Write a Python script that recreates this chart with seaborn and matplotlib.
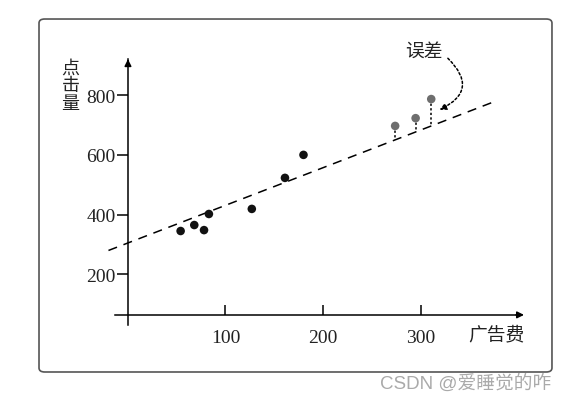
import matplotlib
matplotlib.use("Agg")
import numpy as np
import pandas as pd
import seaborn as sns
import matplotlib.pyplot as plt
from matplotlib.patches import FancyBboxPatch

# data
ad_cost = [54, 68, 78, 83, 127, 161, 180, 274, 295, 311]
clicks = [345, 365, 348, 402, 419, 523, 600, 697, 723, 787]
group = ["fit"] * 7 + ["err"] * 3
line_x = [-20, 379]
intercept, slope = 305, 1.26
x_ticks = [100, 200, 300]
y_ticks = [200, 400, 600, 800]

df = pd.DataFrame({"ad_cost": ad_cost, "clicks": clicks, "group": group})

sns.set_style("white")
plt.rcParams["font.family"] = ["Liberation Serif", "Noto Sans CJK SC"]
cjk = ["Noto Sans CJK SC"]

fig = plt.figure(figsize=(5.67, 4.06), dpi=100)
ax = fig.add_axes([0.1827, 0.1749, 0.7653, 0.6985])
ax.set_xlim(-25, 420)
ax.set_ylim(0, 950)

# fitted line
lx = np.array(line_x)
ax.plot(lx, intercept + slope * lx, color="black", lw=1.1, ls=(0, (6, 4.5)))

# residuals of the grey points
err = df[df.group == "err"]
for x, y in zip(err.ad_cost, err.clicks):
    ax.plot([x, x], [y, intercept + slope * x], color="black", lw=1.1, ls=(0, (1.5, 1.5)))

sns.scatterplot(data=df, x="ad_cost", y="clicks", hue="group",
                palette={"fit": "#111111", "err": "#6e6e6e"},
                s=38, edgecolor="none", legend=False, ax=ax, zorder=3)

# axes drawn through the origin
for s in ["top", "right"]:
    ax.spines[s].set_visible(False)
ax.spines["left"].set_position(("data", 0))
ax.spines["bottom"].set_position(("data", 64))
ax.spines["left"].set_bounds(30, 920)
ax.spines["bottom"].set_bounds(-13, 400)
for s in ["left", "bottom"]:
    ax.spines[s].set_color("black")
    ax.spines[s].set_linewidth(1.1)
ax.annotate("", xy=(409, 64), xytext=(395, 64),
            arrowprops=dict(arrowstyle="-|>", color="black", lw=1.1, mutation_scale=10))
ax.annotate("", xy=(0, 930), xytext=(0, 900),
            arrowprops=dict(arrowstyle="-|>", color="black", lw=1.1, mutation_scale=10))

ax.set_xticks(x_ticks)
ax.set_yticks(y_ticks)
ax.tick_params(axis="x", bottom=True, direction="in", length=7, width=1.1,
               color="black", labelsize=14, labelcolor="#222222", pad=10)
ax.tick_params(axis="y", left=True, direction="out", length=8, width=1.1,
               color="black", labelsize=14, labelcolor="#222222", pad=1)
ax.set_xlabel("")
ax.set_ylabel("")

ax.text(349, 2, "广告费", family=cjk, fontsize=13.5, color="#222222", va="center")
ax.text(-59, 833, "点\n击\n量", family=cjk, fontsize=13, color="#222222",
        ha="center", va="center", linespacing=0.95)

# annotation for the errors
ax.text(304, 952, "误差", family=cjk, fontsize=13.5, color="#222222", ha="center", va="center")
ax.annotate("", xy=(317, 747), xytext=(326, 930),
            arrowprops=dict(arrowstyle="-|>", color="black", lw=1.1, ls=(0, (1.5, 1.5)),
                            mutation_scale=10, connectionstyle="arc3,rad=-0.75"))

# rounded frame and watermark
fig.patches.append(FancyBboxPatch((0.0688, 0.0813), 0.9047, 0.8694,
                                  boxstyle="round,pad=0,rounding_size=0.01",
                                  transform=fig.transFigure, fill=False,
                                  edgecolor="#555555", lw=1.2))
fig.text(0.67, 0.055, "CSDN @爱睡觉的咋", family=["Liberation Sans", "Noto Sans CJK SC"],
         fontsize=13.5, color="#aaaaaa", va="center")

fig.savefig("out.png", dpi=100)
